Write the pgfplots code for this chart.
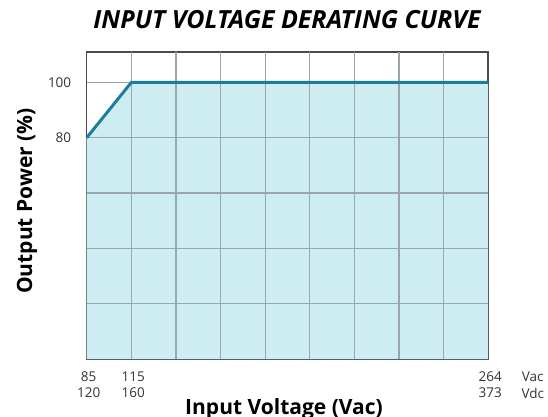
\documentclass[border=0pt]{standalone}
\usepackage{fontspec}
\setmainfont{Open Sans}
\usepackage{pgfplots}
\pgfplotsset{compat=1.18}
\definecolor{linec}{HTML}{1C7E9B}
\definecolor{fillc}{HTML}{CDEDF3}
\definecolor{gridc}{HTML}{9AA6AA}
\definecolor{framec}{HTML}{4A4A4A}
\definecolor{tickc}{HTML}{333333}
\begin{document}
\begin{tikzpicture}[x=1pt,y=1pt]
\path[use as bounding box] (0,0) rectangle (548,416);
\begin{axis}[
  at={(86.7pt,57pt)}, anchor=south west,
  scale only axis, width=401.5pt, height=307pt,
  xmin=0, xmax=9, ymin=0, ymax=111,
  xtick={0,...,9},
  xticklabels={{85\\120},{115\\160},,,,,,,,{264\\373}},
  ytick={20,40,60,80,100},
  yticklabels={,,,80,100},
  major tick length=0pt,
  axis line style={framec, line width=1.5pt},
  /pgf/number format/assume math mode=true,
  xticklabel style={align=center, font=\fontsize{13.5}{16.5}\selectfont, text=tickc, yshift=-9pt, xshift=2pt},
  yticklabel style={font=\fontsize{13.5}{16}\selectfont, text=tickc, xshift=-12pt},
  clip=false,
]
\addplot[fill=fillc, draw=none] coordinates {(0,80) (1,100) (9,100)} \closedcycle;
\pgfplotsinvokeforeach{1,...,8}{\draw[gridc, line width=1.2pt] (axis cs:#1,0) -- (axis cs:#1,111);}
\pgfplotsinvokeforeach{20,40,...,100}{\draw[gridc, line width=1.2pt] (axis cs:0,#1) -- (axis cs:9,#1);}
\addplot[linec, line width=3pt, line join=round] coordinates {(0,80) (1,100) (9,100)};
\node[align=center, font=\fontsize{13.5}{16.5}\selectfont, text=tickc, anchor=north] at (axis cs:10,0) [yshift=-9.5pt] {Vac\\Vdc};
\end{axis}
\node[font=\fontsize{25}{28}\selectfont\bfseries\itshape] at (287,396) {INPUT VOLTAGE DERATING CURVE};
\node[font=\fontsize{21}{24}\selectfont\bfseries, anchor=base] at (284,2) {Input Voltage (Vac)};
\node[font=\fontsize{21}{24}\selectfont\bfseries, rotate=90, anchor=base] at (32,215) {Output Power (\%)};
\end{tikzpicture}
\end{document}
